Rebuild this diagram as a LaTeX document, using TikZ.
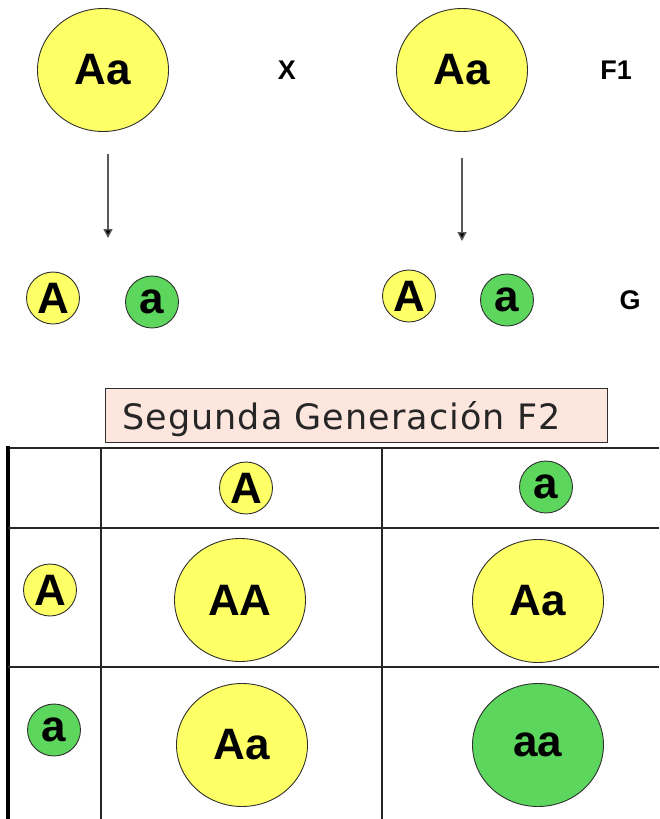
\documentclass[tikz,border=0pt]{standalone}
\usepackage{fontspec}
\setmainfont{Liberation Sans}
\newfontfamily\titlefont[LetterSpace=3]{DejaVu Sans}
\usetikzlibrary{shapes.geometric,arrows.meta}
\definecolor{yel}{HTML}{FFFF66}
\definecolor{grn}{HTML}{5CD65C}
\definecolor{pinkbg}{HTML}{FCE6DE}
\definecolor{edge}{HTML}{303030}
\begin{document}
\begin{tikzpicture}[x=1pt,y=-1pt,
  bigc/.style={ellipse, draw=edge, line width=0.9pt, minimum width=131pt, minimum height=123pt, inner sep=0pt, font=\fontsize{44}{44}\selectfont\bfseries},
  smallc/.style={ellipse, draw=edge, line width=0.9pt, minimum width=53pt, minimum height=52pt, inner sep=0pt, font=\fontsize{44}{44}\selectfont\bfseries},
  yc/.style={fill=yel},
  gc/.style={fill=grn},
  tag/.style={font=\fontsize{27}{27}\selectfont\bfseries},
  arr/.style={draw=black!65, line width=1.4pt, -{Triangle[length=9pt,width=9pt,fill=black]}},
  grid/.style={draw=black!85, line width=2pt}
]
\useasboundingbox (0,0) rectangle (659,819);
% parents
\node[bigc,yc] (p1) at (103,70) {Aa};
\node[bigc,yc] (p2) at (462,70) {Aa};
\node[tag] (x) at (287,70) {X};
\node[tag] (f1) at (616,70) {F1};
% arrows
\coordinate (a1s) at (108,154);
\coordinate (a1e) at (108,238);
\coordinate (a2s) at (462,158);
\coordinate (a2e) at (462,241);
\draw[arr] (a1s) -- (a1e);
\draw[arr] (a2s) -- (a2e);
% gametes
\node[smallc,yc] (g1A) at (53,298) {A};
\node[smallc,gc] (g1a) at (152,302) {a};
\node[smallc,yc] (g2A) at (409,296) {A};
\node[smallc,gc] (g2a) at (507,300) {a};
\node[tag] (g) at (630,300) {G};
% title box
\node[draw=edge, line width=1.4pt, fill=pinkbg, minimum width=502pt, minimum height=54pt, anchor=north west, inner sep=0pt] (title) at (105,388) {};
\node[anchor=base west, inner sep=0pt, font=\titlefont\fontsize{35}{35}\selectfont, text=black!85] (ttext) at (122,429) {Segunda Generación F2};
% table
\draw[grid] (8,448) -- (659,448);
\draw[draw=black, line width=4.5pt] (8,446) -- (8,819);
\draw[grid] (101,448) -- (101,819);
\draw[grid] (382,448) -- (382,819);
\draw[grid] (8,528) -- (659,528);
\draw[grid] (8,667) -- (659,667);
% headers
\node[smallc,yc] (hA) at (246,488) {A};
\node[smallc,gc] (ha) at (546,487) {a};
\node[smallc,yc] (rA) at (50,590) {A};
\node[smallc,gc] (ra) at (54,730) {a};
% offspring
\node[bigc,yc] (AA) at (240,600) {AA};
\node[bigc,yc] (Aa1) at (538,601) {Aa};
\node[bigc,yc] (Aa2) at (242,745) {Aa};
\node[bigc,gc] (aa) at (538,745) {aa};
\end{tikzpicture}
\end{document}
